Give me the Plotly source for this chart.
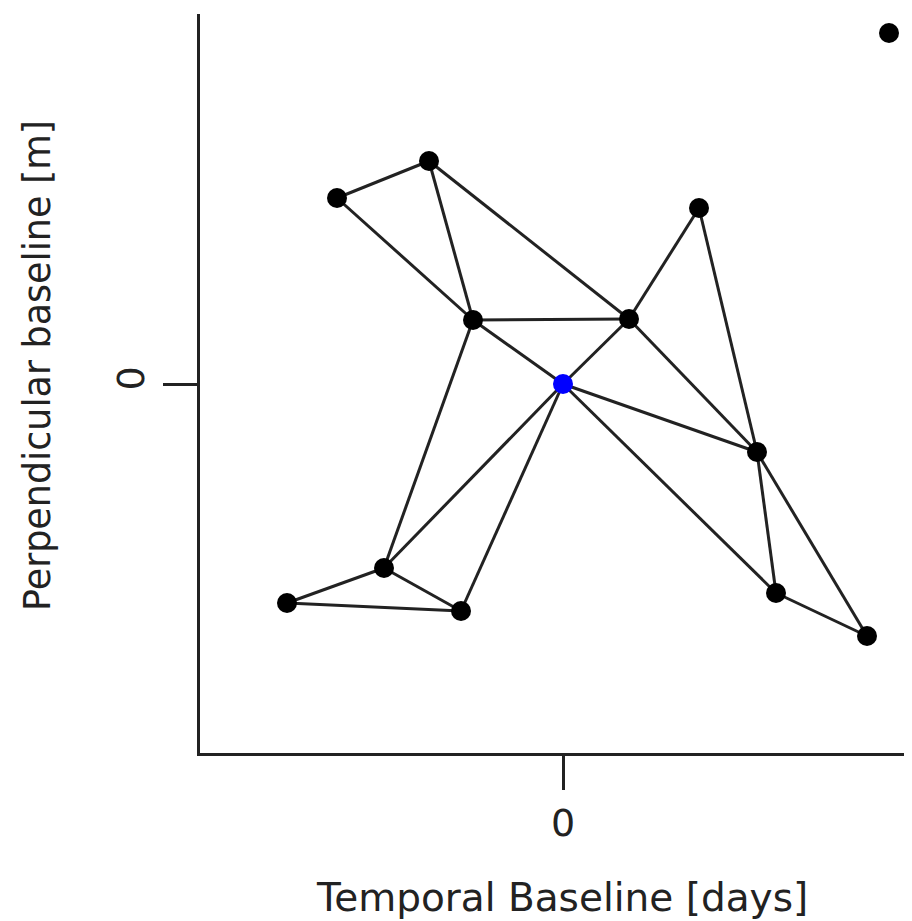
import plotly.graph_objects as go

# Acquisition positions relative to the reference (master) image
temporal_baseline_days = [326, -134, -226, 136, -90, 66, 0, 194, -179, -276, -102, 213, 304]
perp_baseline_m = [175.5, 111.5, 93, 88, 32, 32.5, 0, -34, -92, -109.5, -113.5, -104.5, -126]
reference_index = 6

# Interferometric pairs (indices into the lists above)
pair_start = [2, 2, 1, 1, 4, 4, 5, 5, 5, 3, 6, 6, 7, 7, 11, 4, 6, 6, 8, 8, 9]
pair_end   = [1, 4, 4, 5, 5, 6, 3, 6, 7, 7, 7, 11, 11, 12, 12, 8, 8, 10, 9, 10, 10]

x_tick_vals = [0]
x_tick_text = ["0"]
y_tick_vals = [0]
y_tick_text = ["0"]

x_title = "Temporal Baseline [days]"
y_title = "Perpendicular baseline [m]"

ink = "#222222"
font_family = "DejaVu Sans"

edge_x, edge_y = [], []
for a, b in zip(pair_start, pair_end):
    edge_x += [temporal_baseline_days[a], temporal_baseline_days[b], None]
    edge_y += [perp_baseline_m[a], perp_baseline_m[b], None]

fig = go.Figure()
fig.add_trace(go.Scatter(
    x=edge_x, y=edge_y, mode="lines",
    line=dict(color=ink, width=3),
    hoverinfo="skip", showlegend=False, cliponaxis=False,
))
colors = ["blue" if i == reference_index else "black" for i in range(len(temporal_baseline_days))]
fig.add_trace(go.Scatter(
    x=temporal_baseline_days, y=perp_baseline_m, mode="markers",
    marker=dict(color=colors, size=20, line=dict(width=0)),
    showlegend=False, cliponaxis=False,
))

fig.update_layout(
    width=904, height=913,
    margin=dict(l=192, r=0, t=6, b=168),
    plot_bgcolor="white", paper_bgcolor="white",
    font=dict(family=font_family, size=38, color=ink),
    xaxis=dict(
        range=[-363, 349], showgrid=False, zeroline=False,
        showline=True, linecolor=ink, linewidth=3,
        ticks="outside", ticklen=34, tickwidth=3, tickcolor=ink,
        tickvals=x_tick_vals, ticktext=x_tick_text,
        tickfont=dict(size=38, family=font_family, color=ink),
        automargin=False,
    ),
    yaxis=dict(
        range=[-184.5, 185], showgrid=False, zeroline=False,
        showline=True, linecolor=ink, linewidth=3,
        ticks="outside", ticklen=34, tickwidth=3, tickcolor=ink,
        tickvals=y_tick_vals, ticktext=y_tick_text, tickangle=-90,
        ticklabelstandoff=4,
        tickfont=dict(size=38, family=font_family, color=ink),
        automargin=False,
    ),
    annotations=[
        dict(text=x_title, xref="paper", yref="paper",
             x=0.509, y=-0.1962, xanchor="center", yanchor="middle",
             showarrow=False, font=dict(size=39, family=font_family, color=ink)),
        dict(text=y_title, xref="paper", yref="paper", textangle=-90,
             x=-0.2275, y=0.5237, xanchor="center", yanchor="middle",
             showarrow=False, font=dict(size=36.5, family=font_family, color=ink)),
    ],
)

fig.write_html("out.html")
